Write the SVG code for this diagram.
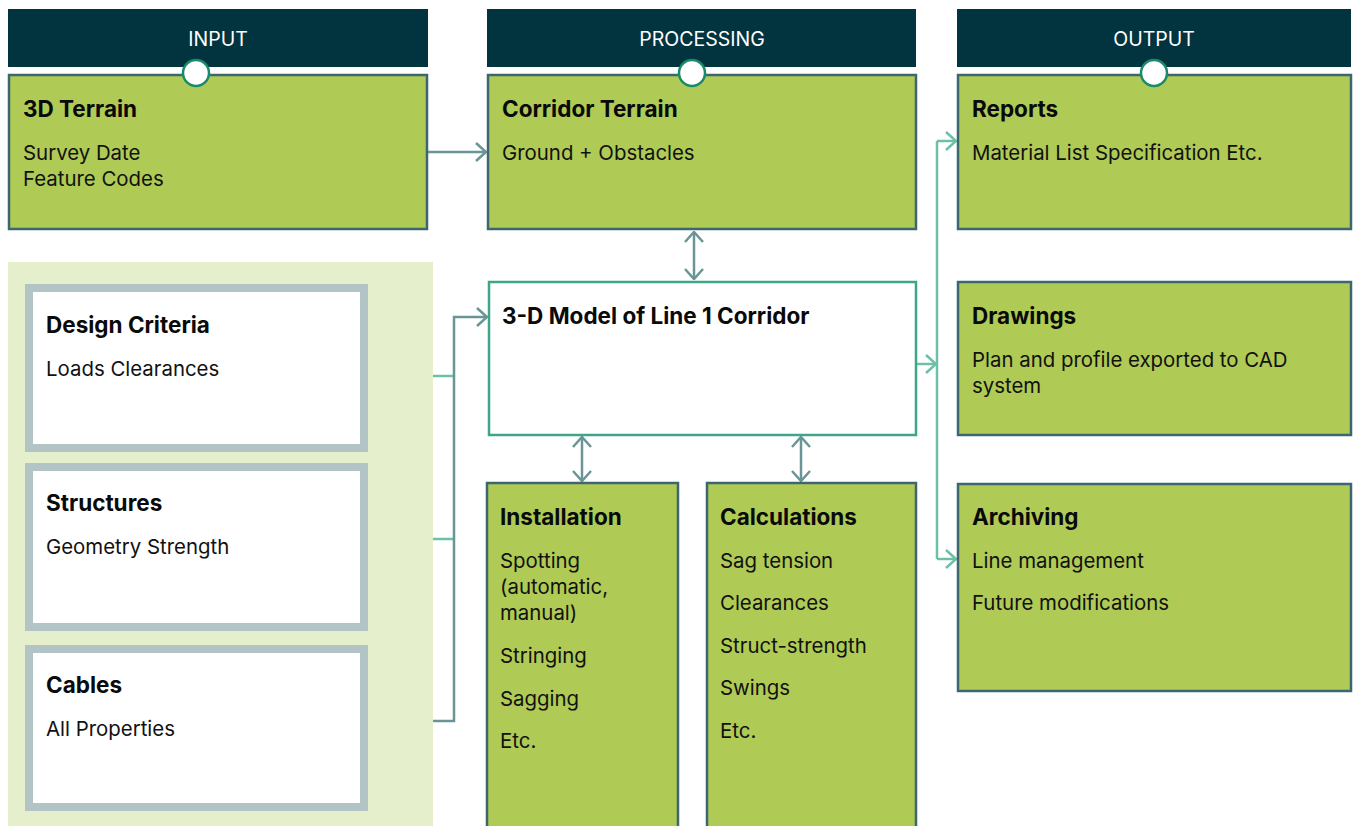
<svg xmlns="http://www.w3.org/2000/svg" width="1353" height="826" viewBox="0 0 1353 826">
  <defs>
    <style>
      .hdr { fill: #02343f; }
      .hdr-t { font-family: Inter, "Liberation Sans", sans-serif; font-size: 19.5px; fill: #ffffff; text-anchor: middle; }
      .box { fill: #afca55; stroke: #3c6771; stroke-width: 2.5; }
      .model { fill: #ffffff; stroke: #3fa58a; stroke-width: 2.5; }
      .inbox { fill: #ffffff; stroke: #b3c4c6; stroke-width: 8; }
      .ttl { font-family: Inter, "Liberation Sans", sans-serif; font-size: 22.5px; font-weight: 700; fill: #0a0a0a; }
      .txt { font-family: Inter, "Liberation Sans", sans-serif; font-size: 20.4px; fill: #111111; }
      .dot { fill: #ffffff; stroke: #1b8a6b; stroke-width: 2.5; }
      .grey { fill: none; stroke: #6a9496; stroke-width: 2.5; }
      .teal { fill: none; stroke: #6cc0a8; stroke-width: 2.5; }
    </style>
    <marker id="ah-grey" viewBox="0 0 12 20" refX="11" refY="10" markerWidth="12" markerHeight="20" markerUnits="userSpaceOnUse" orient="auto-start-reverse">
      <path d="M1,1 L11,10 L1,19" fill="none" stroke="#6a9496" stroke-width="2.5"/>
    </marker>
    <marker id="ah-teal" viewBox="0 0 12 20" refX="11" refY="10" markerWidth="12" markerHeight="20" markerUnits="userSpaceOnUse" orient="auto-start-reverse">
      <path d="M1,1 L11,10 L1,19" fill="none" stroke="#6cc0a8" stroke-width="2.5"/>
    </marker>
  </defs>

  <rect width="1353" height="826" fill="#ffffff"/>

  <!-- input panel background -->
  <rect id="input-panel" x="8" y="262" width="425" height="564" fill="#e6efcc"/>

  <!-- column headers -->
  <g id="header-input">
    <rect class="hdr" x="8" y="9" width="420" height="58"/>
    <text class="hdr-t" x="218" y="46">INPUT</text>
  </g>
  <g id="header-processing">
    <rect class="hdr" x="487" y="9" width="429" height="58"/>
    <text class="hdr-t" x="702" y="46">PROCESSING</text>
  </g>
  <g id="header-output">
    <rect class="hdr" x="957" y="9" width="394" height="58"/>
    <text class="hdr-t" x="1154" y="46">OUTPUT</text>
  </g>

  <!-- connectors -->
  <g id="connectors">
    <!-- terrain to corridor -->
    <path class="grey" d="M427,152 H486" marker-end="url(#ah-grey)"/>
    <!-- corridor <-> model -->
    <path class="grey" d="M694,232 V279" marker-start="url(#ah-grey)" marker-end="url(#ah-grey)"/>
    <!-- model <-> installation / calculations -->
    <path class="grey" d="M582,437 V481" marker-start="url(#ah-grey)" marker-end="url(#ah-grey)"/>
    <path class="grey" d="M801,437 V481" marker-start="url(#ah-grey)" marker-end="url(#ah-grey)"/>
    <!-- input bus -->
    <path class="teal" d="M433,376 H454"/>
    <path class="teal" d="M433,539 H454"/>
    <path class="grey" d="M433,721 H454 V317 H487" marker-end="url(#ah-grey)"/>
    <!-- output bus -->
    <path class="teal" d="M917,364 H936" marker-end="url(#ah-teal)"/>
    <path class="teal" d="M937,141 V559"/>
    <path class="teal" d="M937,141 H956" marker-end="url(#ah-teal)"/>
    <path class="teal" d="M937,559 H956" marker-end="url(#ah-teal)"/>
  </g>

  <!-- input nodes -->
  <g id="terrain-3d">
    <rect class="box" x="9" y="75" width="418" height="154"/>
    <text class="ttl" x="23" y="117">3D Terrain</text>
    <text class="txt" x="23" y="160">Survey Date</text>
    <text class="txt" x="23" y="186">Feature Codes</text>
  </g>
  <g id="design-criteria">
    <rect class="inbox" x="29" y="288" width="335" height="160"/>
    <text class="ttl" x="46" y="333">Design Criteria</text>
    <text class="txt" x="46" y="376">Loads Clearances</text>
  </g>
  <g id="structures">
    <rect class="inbox" x="29" y="467" width="335" height="160"/>
    <text class="ttl" x="46" y="511">Structures</text>
    <text class="txt" x="46" y="554">Geometry Strength</text>
  </g>
  <g id="cables">
    <rect class="inbox" x="29" y="649" width="335" height="158"/>
    <text class="ttl" x="46" y="693">Cables</text>
    <text class="txt" x="46" y="736">All Properties</text>
  </g>

  <!-- processing nodes -->
  <g id="corridor-terrain">
    <rect class="box" x="488" y="75" width="428" height="154"/>
    <text class="ttl" x="502" y="117">Corridor Terrain</text>
    <text class="txt" x="502" y="160">Ground + Obstacles</text>
  </g>
  <g id="line-model">
    <rect class="model" x="489" y="282" width="427" height="153"/>
    <text class="ttl" x="502" y="324">3-D Model of Line 1 Corridor</text>
  </g>
  <g id="installation">
    <rect class="box" x="487" y="483" width="191" height="350"/>
    <text class="ttl" x="500" y="525">Installation</text>
    <text class="txt" x="500" y="568">Spotting</text>
    <text class="txt" x="500" y="594">(automatic,</text>
    <text class="txt" x="500" y="620">manual)</text>
    <text class="txt" x="500" y="663">Stringing</text>
    <text class="txt" x="500" y="706">Sagging</text>
    <text class="txt" x="500" y="748">Etc.</text>
  </g>
  <g id="calculations">
    <rect class="box" x="707" y="483" width="209" height="350"/>
    <text class="ttl" x="720" y="525">Calculations</text>
    <text class="txt" x="720" y="568">Sag tension</text>
    <text class="txt" x="720" y="610">Clearances</text>
    <text class="txt" x="720" y="653">Struct-strength</text>
    <text class="txt" x="720" y="695">Swings</text>
    <text class="txt" x="720" y="738">Etc.</text>
  </g>

  <!-- output nodes -->
  <g id="reports">
    <rect class="box" x="958" y="75" width="393" height="154"/>
    <text class="ttl" x="972" y="117">Reports</text>
    <text class="txt" x="972" y="160">Material List Specification Etc.</text>
  </g>
  <g id="drawings">
    <rect class="box" x="958" y="282" width="393" height="153"/>
    <text class="ttl" x="972" y="324">Drawings</text>
    <text class="txt" x="972" y="367">Plan and profile exported to CAD</text>
    <text class="txt" x="972" y="393">system</text>
  </g>
  <g id="archiving">
    <rect class="box" x="958" y="484" width="393" height="207"/>
    <text class="ttl" x="972" y="525">Archiving</text>
    <text class="txt" x="972" y="568">Line management</text>
    <text class="txt" x="972" y="610">Future modifications</text>
  </g>

  <!-- header joints -->
  <circle class="dot" cx="196" cy="73" r="13"/>
  <circle class="dot" cx="692" cy="73" r="13"/>
  <circle class="dot" cx="1154" cy="73" r="13"/>
</svg>
